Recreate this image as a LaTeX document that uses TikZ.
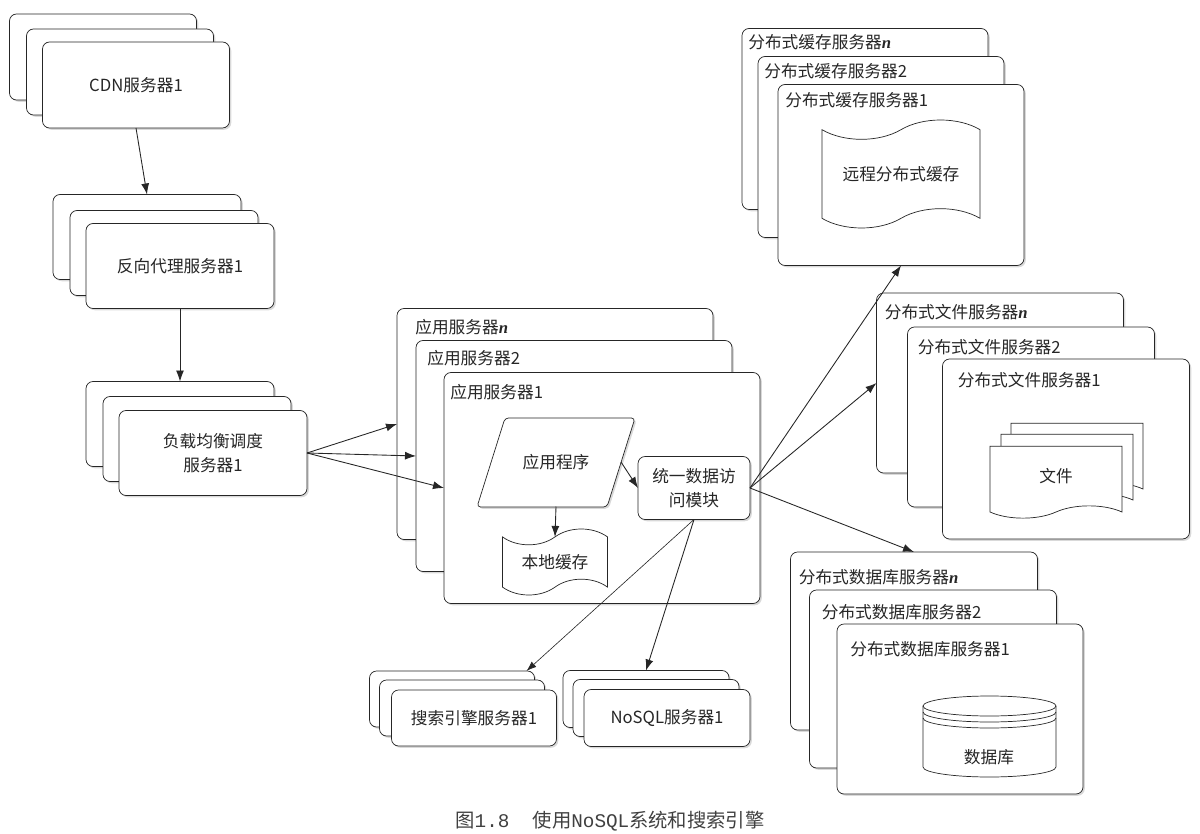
\documentclass[tikz,border=0pt]{standalone}
\usepackage{fontspec}
\setmainfont{Noto Sans CJK SC}
\newfontfamily\nfont{Liberation Serif}
\newfontfamily\capmono{Liberation Mono}
\usetikzlibrary{arrows.meta, calc, shapes.geometric, shapes.symbols, shadows}
\newcommand{\nth}{{\nfont\bfseries\itshape n}}
\tikzset{
  card/.style={draw=black!85, fill=white, rounded corners=4pt, inner sep=0pt, outer sep=0pt,
    drop shadow={shadow xshift=1pt, shadow yshift=-1pt, opacity=0.3}},
  wh/.style 2 args={minimum width=#1*0.02cm, minimum height=#2*0.02cm},
  tag/.style={anchor=west, inner sep=0pt},
  wave/.style={tape, draw=black!85, fill=white, inner sep=0pt, outer sep=0pt, tape bend height=9pt},
  doc/.style={tape, draw=black!85, fill=white, tape bend top=none, inner sep=0pt, tape bend height=7pt},
  arr/.style={-{Latex[length=2.2mm, width=1.6mm]}, line width=0.5pt, draw=black!85},
  thinarr/.style={-{Latex[length=2mm, width=1.4mm]}, line width=0.35pt, draw=black!85},
}

\begin{document}
\begin{tikzpicture}[x=0.02cm, y=-0.02cm,
    every node/.style={font=\fontsize{9.5}{13}\selectfont, text=black!85}]
  \useasboundingbox (0,0) rectangle (1200,834);

  \node[card, wh={187}{86}] (cdn3) at (103,57) {};
  \node[card, wh={187}{86}] (cdn2) at (120,72) {};
  \node[card, wh={187}{86}] (cdn1) at (136,85) {CDN服务器1};

  \node[card, wh={188}{85}] (rp3) at (147,237) {};
  \node[card, wh={188}{85}] (rp2) at (164,253) {};
  \node[card, wh={188}{85}] (rp1) at (180,266) {反向代理服务器1};

  \node[card, wh={188}{85}] (lb3) at (180,424) {};
  \node[card, wh={188}{85}] (lb2) at (197,439) {};
  \node[card, wh={188}{85}, align=center, font=\fontsize{9.5}{14}\selectfont] (lb1) at (213,453) {负载均衡调度\\服务器1};

  \node[card, wh={316}{231}] (appn) at (555,424) {};
  \node[tag] (appn-t) at ([shift={(18,19)}]appn.north west) {应用服务器\nth};
  \node[card, wh={316}{231}] (app2) at (574,456) {};
  \node[tag] (app2-t) at ([shift={(11,18)}]app2.north west) {应用服务器2};
  \node[card, wh={316}{231}] (app1) at (602,488) {};
  \node[tag] (app1-t) at ([shift={(6,20)}]app1.north west) {应用服务器1};
  \draw[draw=black!85, fill=white, rounded corners=2pt,
    drop shadow={shadow xshift=1pt, shadow yshift=-1pt, opacity=0.3}]
    (505,418) -- (635,418) -- (607,507) -- (477,507) -- cycle;
  \node[wh={130}{89}, inner sep=0pt, outer sep=0pt] (prog) at (556,462) {应用程序};
  \node[card, wh={112}{63}, align=center, font=\fontsize{9.5}{14}\selectfont] (dam) at (694,488) {统一数据访\\问模块};
  \node[wave, wh={105}{66}] (lc) at (555,562) {本地缓存};

  \node[card, wh={246}{181}] (dcn) at (865,119) {};
  \node[tag] (dcn-t) at ([shift={(6,14)}]dcn.north west) {分布式缓存服务器\nth};
  \node[card, wh={246}{181}] (dc2) at (881,147) {};
  \node[tag] (dc2-t) at ([shift={(6,15)}]dc2.north west) {分布式缓存服务器2};
  \node[card, wh={246}{181}] (dc1) at (901,175) {};
  \node[tag] (dc1-t) at ([shift={(7,16)}]dc1.north west) {分布式缓存服务器1};
  \node[wave, wh={158}{108}, tape bend height=11pt] (rc) at (901,174) {远程分布式缓存};

  \node[card, wh={247}{180}] (fsn) at (1000,383) {};
  \node[tag] (fsn-t) at ([shift={(8,19)}]fsn.north west) {分布式文件服务器\nth};
  \node[card, wh={247}{180}] (fs2) at (1031,417) {};
  \node[tag] (fs2-t) at ([shift={(10,20)}]fs2.north west) {分布式文件服务器2};
  \node[card, wh={247}{180}] (fs1) at (1066,449) {};
  \node[tag] (fs1-t) at ([shift={(15,21)}]fs1.north west) {分布式文件服务器1};
  \node[doc, wh={132}{72}] (doc3) at (1077,453) {};
  \node[doc, wh={132}{72}] (doc2) at (1067,464) {};
  \node[doc, wh={132}{72}] (doc1) at (1056,476) {文件};

  \node[card, wh={247}{178}] (dbn) at (914,641) {};
  \node[tag] (dbn-t) at ([shift={(8,25)}]dbn.north west) {分布式数据库服务器\nth};
  \node[card, wh={247}{178}] (db2) at (933,679) {};
  \node[tag] (db2-t) at ([shift={(12,22)}]db2.north west) {分布式数据库服务器2};
  \node[card, wh={246}{170}] (db1) at (960,709) {};
  \node[tag] (db1-t) at ([shift={(13,25)}]db1.north west) {分布式数据库服务器1};
  \draw[draw=black!85, fill=white] (923,706) -- (923,767)
    arc[start angle=180, end angle=360, x radius=1.33cm, y radius=0.2cm] -- (1056,706)
    arc[start angle=0, end angle=180, x radius=1.33cm, y radius=0.2cm] -- cycle;
  \draw[draw=black!85] (923,706) arc[start angle=180, end angle=360, x radius=1.33cm, y radius=0.2cm];
  \draw[draw=black!85] (923,712) arc[start angle=180, end angle=360, x radius=1.33cm, y radius=0.2cm];
  \draw[draw=black!85] (923,718) arc[start angle=180, end angle=360, x radius=1.33cm, y radius=0.2cm];
  \node (db) at (989,757) {数据库};

  \node[card, wh={165}{56}] (se3) at (452,699) {};
  \node[card, wh={165}{56}] (se2) at (462,708) {};
  \node[card, wh={165}{56}] (se1) at (474,718) {搜索引擎服务器1};
  \node[card, wh={166}{57}] (ns3) at (646,699) {};
  \node[card, wh={166}{57}] (ns2) at (656,708) {};
  \node[card, wh={166}{57}] (ns1) at (667,718) {NoSQL服务器1};

  \draw[arr] (cdn1.south) -- (rp3.north);
  \draw[arr] (rp1.south) -- (lb3.north);
  \draw[arr] (lb1.east) -- (appn.west);
  \draw[arr] (lb1.east) -- (app2.west);
  \draw[arr] (lb1.east) -- (app1.west);
  \draw[arr] (prog.east) -- (dam.west);
  \draw[arr] (prog.south) -- (lc.north);
  \draw[thinarr] (dam.south) -- ($(se3.north east)+(-8,0)$);
  \draw[arr] (dam.south) -- (ns3.north);
  \draw[arr] (dam.east) -- (dc1.south);
  \draw[arr] (dam.east) -- (fsn.west);
  \draw[arr] (dam.east) -- (dbn.north);

  \node[font=\fontsize{11}{13}\selectfont, text=black!75] (cap) at (610,821)
    {图{\capmono 1.8}\hspace{1.2em}使用{\capmono NoSQL}系统和搜索引擎};
\end{tikzpicture}
\end{document}
